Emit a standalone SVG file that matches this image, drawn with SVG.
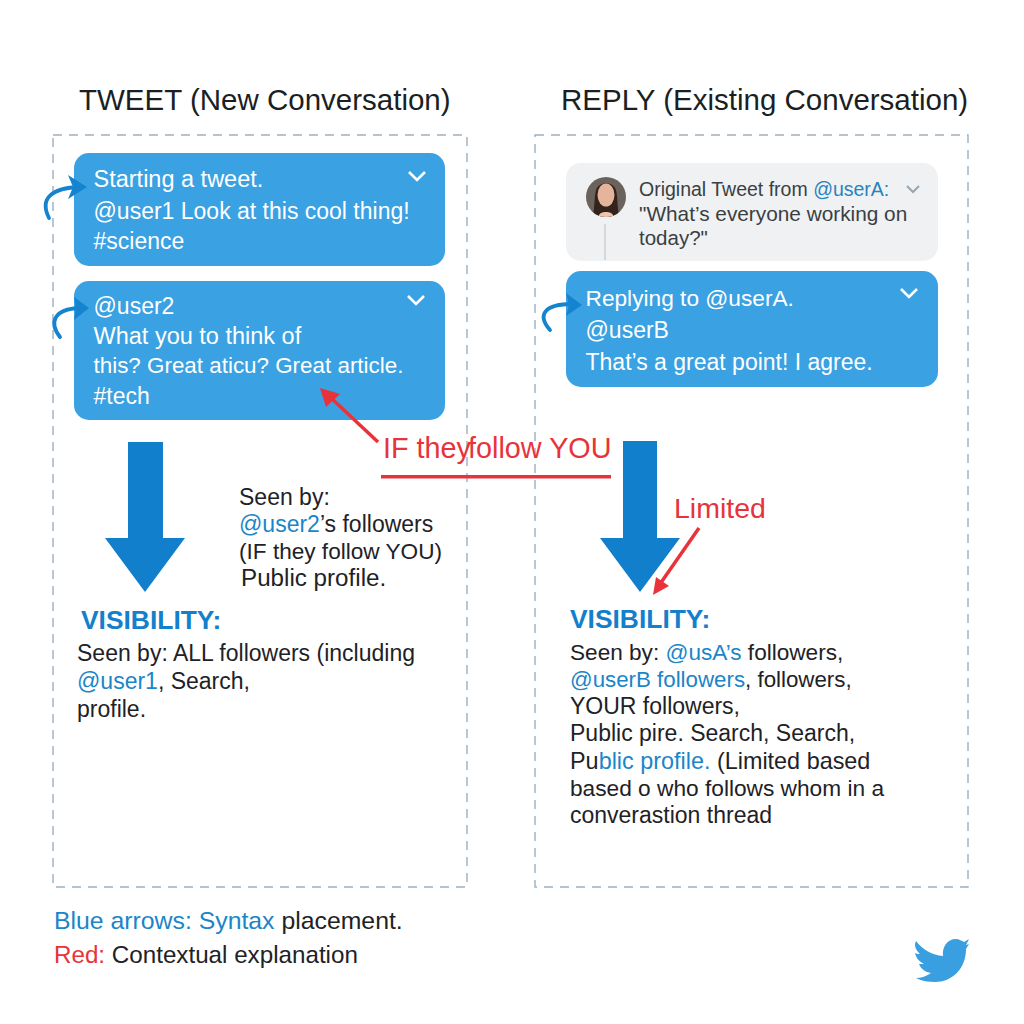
<svg xmlns="http://www.w3.org/2000/svg" width="1024" height="1024" viewBox="0 0 1024 1024">
<defs>
<style>
text{font-family:"Liberation Sans",Arial,sans-serif}
.h{font-size:29.500px;fill:#1b1f23}
.w{font-size:23px;fill:#fff}
.d{font-size:23px;fill:#1e2226}
.g{font-size:20.500px;fill:#3a3f44}
.v{font-size:26.400px;font-weight:700;fill:#1480cc}
.r{fill:#e8333a}
.panel{fill:#fff;stroke:#9fb0bd;stroke-width:1.400;stroke-dasharray:9 7}
.card{fill:#3aa1e2}
.chev{fill:none;stroke:#fff;stroke-width:2.600}
.curve{fill:none;stroke:#1584d0;stroke-width:3.800;stroke-linecap:round}
.head{fill:#1584d0}
.big{fill:#117fcb}
.red{fill:none;stroke:#e8333a;stroke-width:3.500}
</style>
<clipPath id="av"><circle cx="606" cy="197" r="20"/></clipPath>
</defs>
<rect width="1024" height="1024" fill="#fff"/>
<g id="titles">
<text class="h" x="79" y="110">TWEET (New Conversation)</text>
<text class="h" x="561" y="110">REPLY (Existing Conversation)</text>
</g>
<g id="panel-left"><rect class="panel" x="53" y="135" width="414" height="752"/></g>
<g id="panel-right"><rect class="panel" x="535" y="135" width="433" height="752"/></g>
<g id="tweet-1">
<rect class="card" x="74" y="153" width="371" height="113" rx="15"/>
<path class="chev" d="M409 172l8 8 8-8"/>
<text class="w" x="93.500" y="187" font-size="23.500" style="font-size:23.500px">Starting a tweet.</text>
<text class="w" x="93.500" y="219">@user1 Look at this cool thing!</text>
<text class="w" x="93.500" y="249">#science</text>
</g>
<g id="tweet-2">
<rect class="card" x="74" y="281" width="371" height="139" rx="15"/>
<path class="chev" d="M408 296l8 8 8-8"/>
<text class="w" x="93.500" y="314">@user2</text>
<text class="w" x="93.500" y="344" style="font-size:23.500px">What you to think of</text>
<text class="w" x="93.500" y="373" style="font-size:22.400px">this? Great aticu? Great article.</text>
<text class="w" x="93.500" y="404">#tech</text>
</g>
<g id="original-tweet">
<rect x="566" y="163" width="372" height="98" rx="15" fill="#eff1f3"/>
<path d="M605 224V260" stroke="#c9cfd4" stroke-width="1.500"/>
<circle cx="606" cy="197" r="20" fill="#6a625c"/>
<g clip-path="url(#av)">
<path d="M592 217c3-6 2-20 4-27 3-9 17-9 20 0 2 7 1 21 4 27z" fill="#33231c"/>
<ellipse cx="606" cy="195" rx="8.500" ry="11.500" fill="#e4b49c"/>
<path d="M598 218c1-5 4-6 8-6s7 1 8 6z" fill="#eec4ae"/>
</g>
<text class="g" x="639" y="196" style="font-size:19.500px">Original Tweet from <tspan fill="#2a82bd">@userA:</tspan></text>
<path d="M907 186l6 6 6-6" fill="none" stroke="#9aa5ae" stroke-width="2"/>
<text class="g" x="639" y="221" style="font-size:20.800px">"What’s everyone working on</text>
<text class="g" x="639" y="245">today?"</text>
</g>
<g id="reply">
<rect class="card" x="566" y="271" width="372" height="116" rx="15"/>
<path class="chev" d="M901 289l8 8 8-8"/>
<text class="w" x="585.500" y="306" style="font-size:22.700px">Replying to @userA.</text>
<text class="w" x="585.500" y="338">@userB</text>
<text class="w" x="585.500" y="370">That’s a great point! I agree.</text>
</g>
<g id="connectors">
<path class="curve" d="M49 218C39 198 52 188 80 187"/>
<path class="head" d="M68 175l19 12-19 12 5-12z"/>
<path class="curve" d="M60 337C49 323 53 309 80 308"/>
<path class="head" d="M74 297l15 11-15 12 2-12z"/>
<path class="curve" d="M550 330C536 314 546 304 572 304"/>
<path class="head" d="M566 293l16 12-16 11 3-11z"/>
<path class="big" d="M128 442h35v96h22l-40 54-40-54h23z"/>
<path class="big" d="M623 441h34v97h23l-40 54-40-54h23z"/>
<path class="red" d="M378 442L330 397"/>
<path class="r" d="M320 388l20 6-14 13z"/>
<path class="red" d="M699 528L660 584"/>
<path class="r" d="M653 595l3-18 13 9z"/>
<rect class="r" x="381" y="475" width="230" height="3.500"/>
</g>
<g id="callouts">
<text x="383" y="458" font-size="28.800" fill="#e8333a">IF they<tspan dx="-3">follow YOU</tspan></text>
<text x="674" y="518" font-size="28.500" fill="#e8333a">Limited</text>
</g>
<g id="seen-by">
<text class="d" x="239" y="505">Seen by:</text>
<text class="d" x="239" y="532"><tspan fill="#1b85c8">@user2</tspan>’s followers</text>
<text class="d" x="239" y="559" style="font-size:22.600px">(IF they follow YOU)</text>
<text class="d" x="241" y="586" style="font-size:24.200px">Public profile.</text>
</g>
<g id="visibility-left">
<text class="v" x="81" y="629">VISIBILITY:</text>
<text class="d" x="77" y="661">Seen by: ALL followers (including</text>
<text class="d" x="77" y="689"><tspan fill="#1b85c8">@user1</tspan>, Search,</text>
<text class="d" x="77" y="717">profile.</text>
</g>
<g id="visibility-right">
<text class="v" x="570" y="628">VISIBILITY:</text>
<text class="d" x="570" y="660" style="font-size:22.600px">Seen by: <tspan fill="#1b85c8">@usA’s</tspan> followers,</text>
<text class="d" x="570" y="687" style="font-size:22.300px"><tspan fill="#1b85c8">@userB followers</tspan>, followers,</text>
<text class="d" x="570" y="714">YOUR followers,</text>
<text class="d" x="570" y="741">Public pire. Search, Search,</text>
<text class="d" x="570" y="769" style="font-size:23.400px">Pu<tspan fill="#1b85c8">blic profile.</tspan> (Limited based</text>
<text class="d" x="570" y="796" style="font-size:22.700px">based o who follows whom in a</text>
<text class="d" x="570" y="823">converastion thread</text>
</g>
<g id="legend">
<text class="d" x="54" y="929" style="font-size:24.800px"><tspan fill="#1b85c8">Blue arrows: Syntax</tspan> placement.</text>
<text class="d" x="54" y="963" style="font-size:24.200px"><tspan fill="#e8333a">Red:</tspan> Contextual explanation</text>
</g>
<g id="bird">
<path fill="#3a9fe0" d="M916 941c7 9 16 14 27 15 -1-9 4-17 13-17 3 0 6 2 8 3l5-3-3 6 3-1-3 5c0 20-14 33-31 33-7 0-13-1-19-4 5 0 11-2 15-5-6-1-10-4-12-9h5c-6-3-8-7-9-11 2 1 3 1 5 1-5-5-6-9-4-13z"/>
</g>
</svg>
